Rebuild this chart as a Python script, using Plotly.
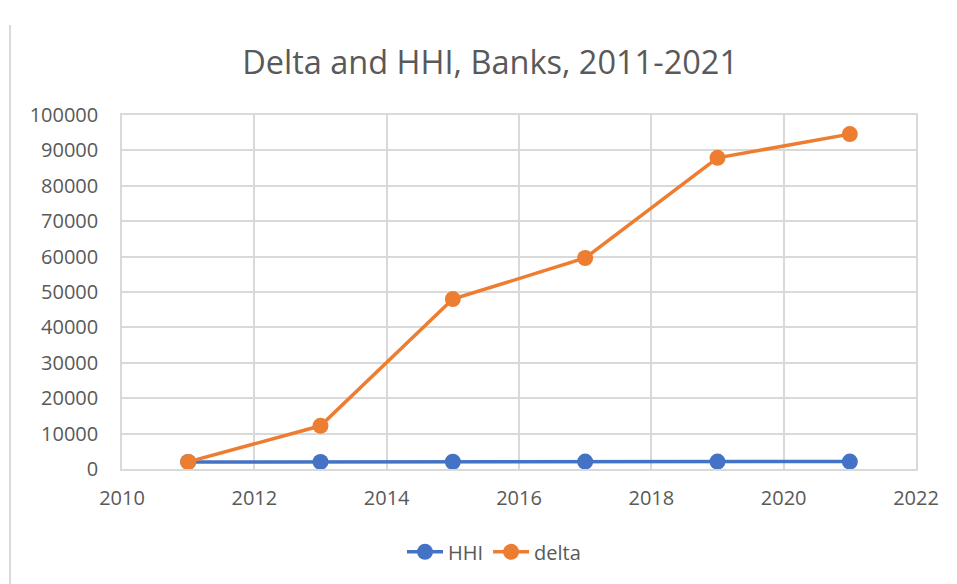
import plotly.graph_objects as go

years = [2011, 2013, 2015, 2017, 2019, 2021]
hhi = [2000, 2000, 2050, 2100, 2100, 2100]
delta = [2000, 12200, 48000, 59600, 87900, 94600]

fig = go.Figure()
fig.add_trace(go.Scatter(x=years, y=hhi, name="HHI", mode="lines+markers",
                         line=dict(color="#4472C4", width=3.5),
                         marker=dict(size=16, color="#4472C4")))
fig.add_trace(go.Scatter(x=years, y=delta, name="delta", mode="lines+markers",
                         line=dict(color="#ED7D31", width=3.5),
                         marker=dict(size=16, color="#ED7D31")))

font_fam = "Open Sans, Liberation Sans, sans-serif"
fig.update_layout(
    width=949, height=576,
    paper_bgcolor="white", plot_bgcolor="white",
    margin=dict(l=114, r=41, t=107, b=115),
    title=dict(text="Delta and HHI, Banks, 2011-2021", x=0.508, xanchor="center",
               y=0.906, yanchor="middle",
               font=dict(family=font_fam, size=32.5, color="#595959")),
    font=dict(family=font_fam, size=20, color="#595959"),
    showlegend=True,
    legend=dict(orientation="h", x=0.4685, xanchor="center", y=-0.234, yanchor="middle",
                font=dict(size=20, color="#595959"), itemwidth=36),
    shapes=[dict(type="line", xref="paper", yref="paper",
                 x0=-0.141, x1=-0.141, y0=-0.33, y1=1.254,
                 line=dict(color="#D9D9D9", width=2))],
)
fig.update_xaxes(range=[2010, 2022], dtick=2, tick0=2010, showgrid=True,
                 gridcolor="#D9D9D9", gridwidth=1.5, zeroline=False,
                 showline=True, linecolor="#D9D9D9", linewidth=1.5, mirror=True,
                 ticks="", ticklabelstandoff=10)
fig.update_yaxes(range=[0, 100000], dtick=10000, showgrid=True,
                 gridcolor="#D9D9D9", gridwidth=1.5, zeroline=False,
                 showline=True, linecolor="#D9D9D9", linewidth=1.5, mirror=True,
                 ticks="", tickformat="d", ticklabelstandoff=18)

fig.write_html("out.html")
